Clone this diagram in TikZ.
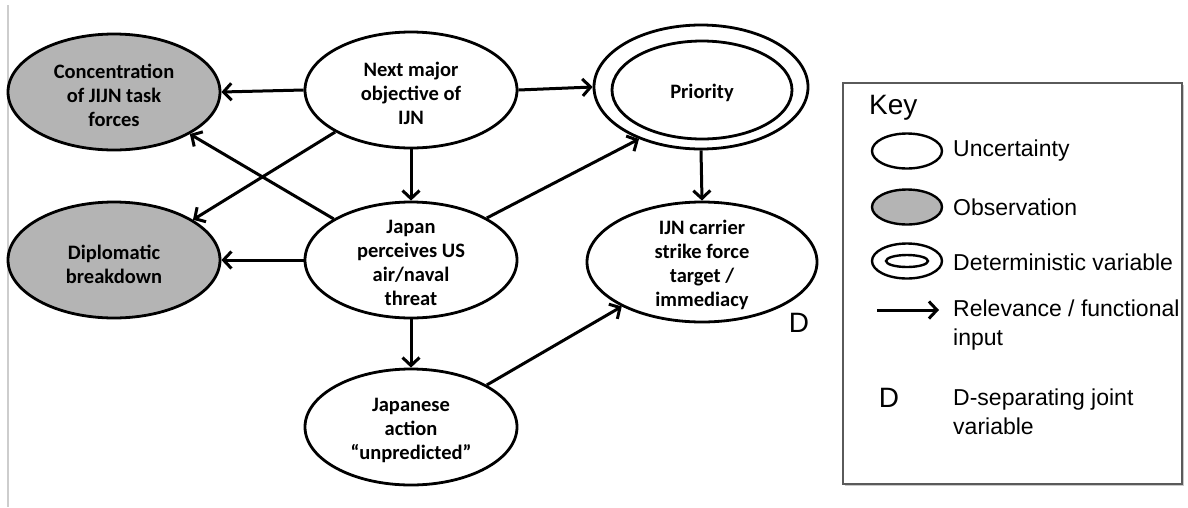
\documentclass[tikz,border=0pt]{standalone}
\usepackage{fontspec}
\setmainfont{Carlito}
\newfontfamily\keyfont{Liberation Sans}
\usetikzlibrary{shapes.geometric,arrows.meta}
\definecolor{obsgray}{RGB}{180,180,180}
\definecolor{keyframe}{RGB}{90,90,90}
\definecolor{keyshadow}{RGB}{200,200,200}
\definecolor{leftline}{RGB}{205,205,205}
\begin{document}
\begin{tikzpicture}[x=1pt,y=-1pt,
  var/.style={ellipse, draw, line width=2.8pt, inner sep=0pt, minimum width=212pt, minimum height=116pt},
  obs/.style={var, fill=obsgray},
  vtext/.style={align=center, inner sep=0pt, font=\bfseries\fontsize{20.5}{24}\selectfont},
  link/.style={line width=3pt, -{Straight Barb[length=8pt,width=17pt]}},
  keytext/.style={anchor=west, align=left, inner sep=0pt, font=\keyfont\fontsize{23}{29}\selectfont},
  keyell/.style={ellipse, draw, line width=2.4pt, minimum width=70pt, minimum height=35pt, inner sep=0pt},
  bigD/.style={inner sep=0pt, font=\keyfont\fontsize{28}{28}\selectfont}
]
\useasboundingbox (0,0) rectangle (1188,507);
\draw[leftline, line width=1.5pt] (8,5) -- (8,507);

% ---- nodes ----
\node[obs] (conc) at (114,92) {};
\node[vtext] (conctxt) at (114,95) {Concentration\\of JIJN task\\forces};
\node[var] (next) at (411,90) {};
\node[vtext] (nexttxt) at (411,93) {Next major\\objective of\\IJN};
\node[obs] (dipl) at (114,260) {};
\node[vtext] (dipltxt) at (114,264) {Diplomatic\\breakdown};
\node[var] (japan) at (411,260) {};
\node[vtext] (japantxt) at (411,263) {Japan\\perceives US\\air/naval\\threat};
\node[var] (action) at (411,427) {};
\node[vtext] (actiontxt) at (411,430) {Japanese\\action\\``unpredicted''};
\node[var, minimum width=214pt, minimum height=124pt] (pri) at (701,87) {};
\node[var, minimum width=180pt, minimum height=98pt] (priin) at (702,90) {};
\node[vtext] (pritxt) at (702,93) {Priority};
\node[var, minimum width=230pt, minimum height=120pt] (ijn) at (702,262) {};
\node[vtext] (ijntxt) at (702,265) {IJN carrier\\strike force\\target /\\immediacy};
\node[bigD] (dmark) at (799,323) {D};

% ---- connectors ----
\draw[link] (next.west) -- (conc.east);
\draw[link] (next.east) -- (pri.west);
\draw[link] (next.south) -- (japan.north);
\draw[link] (next.209) -- (dipl.27);
\draw[link] (japan.152) -- (conc.331);
\draw[link] (japan.west) -- (dipl.east);
\draw[link] (japan.29) -- (pri.220);
\draw[link] (pri.south) -- (ijn.north);
\draw[link] (japan.south) -- (action.north);
\draw[link] (action.29) -- (ijn.209);

% ---- key ----
\fill[keyshadow] (845,85) rectangle (1184,486);
\node[draw=keyframe, fill=white, line width=1.5pt, minimum width=339pt, minimum height=401pt, inner sep=0pt, anchor=north west] (keybox) at (842,82) {};
\node[keytext, font=\keyfont\fontsize{28}{28}\selectfont] (keytitle) at (869,108) {Key};
\node[keyell] (kunc) at (907,151) {};
\node[keytext] (kunctxt) at (953,151) {Uncertainty};
\node[keyell, fill=obsgray] (kobs) at (907,207) {};
\node[keytext] (kobstxt) at (953,207) {Observation};
\node[keyell] (kdet) at (907,261) {};
\node[keyell, minimum width=42pt, minimum height=12pt] (kdetin) at (907,261) {};
\node[keytext] (kdettxt) at (953,262) {Deterministic variable};
\coordinate (karrowa) at (877,310);
\coordinate (karrowb) at (939,310);
\draw[link] (karrowa) -- (karrowb);
\node[keytext] (kreltxt) at (953,325) {Relevance / functional\\input};
\node[bigD] (kD) at (889,398) {D};
\node[keytext] (kDtxt) at (953,412) {D-separating joint\\variable};
\end{tikzpicture}
\end{document}
